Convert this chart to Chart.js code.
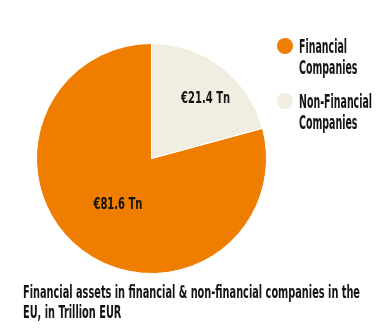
<!DOCTYPE html>
<html>
<head>
<meta charset="utf-8">
<script src="https://cdn.jsdelivr.net/npm/chart.js@4/dist/chart.umd.min.js"></script>
<style>
  html, body { margin: 0; padding: 0; background: #ffffff; }
  #wrap { width: 386px; height: 332px; position: relative; }
</style>
</head>
<body>
<div id="wrap"><canvas id="c" width="386" height="332"></canvas></div>
<script>
// ---- data ----
const categories = ['Financial Companies', 'Non-Financial Companies'];
const legendLines = [['Financial', 'Companies'], ['Non-Financial', 'Companies']];
const values = [81.6, 21.4];
const valueLabels = ['€81.6 Tn', '€21.4 Tn'];
const captionLines = ['Financial assets in financial & non-financial companies in the', 'EU, in Trillion EUR'];
const colors = ['#EF7D00', '#F2EDE1'];

// ---- rendering ----
const FONT = '"Liberation Sans Narrow", "DejaVu Sans Condensed", sans-serif';
const INK = '#141414';

// fit a given string to a target width (returns horizontal scale)
function fitScale(ctx, text, size, targetW) {
  ctx.save();
  ctx.font = `bold ${size}px ${FONT}`;
  const w = ctx.measureText(text).width;
  ctx.restore();
  return targetW / w;
}

function drawText(ctx, text, x, y, size, sx, align, baseline) {
  ctx.save();
  ctx.font = `bold ${size}px ${FONT}`;
  ctx.fillStyle = INK;
  ctx.textAlign = align || 'left';
  ctx.textBaseline = baseline || 'alphabetic';
  ctx.translate(x, y);
  ctx.scale(sx, 1);
  ctx.fillText(text, 0, 0);
  ctx.restore();
}

const total = values.reduce((a, b) => a + b, 0);
const labelAngleFrac = [0.494, 0.564];
const labelRadiusFrac = [0.50, 0.70];

const overlayPlugin = {
  id: 'overlay',
  afterDraw(chart) {
    const ctx = chart.ctx;
    const sxCap = fitScale(ctx, captionLines[0], 18, 337);
    const sxLeg = fitScale(ctx, legendLines[0][0], 19, 48);
    const sxLab = fitScale(ctx, valueLabels[1], 16, 49);
    const meta = chart.getDatasetMeta(0);
    meta.data.forEach((arc, i) => {
      const p = arc.getProps(['x', 'y', 'startAngle', 'endAngle', 'outerRadius'], true);
      const a = p.startAngle + labelAngleFrac[i] * (p.endAngle - p.startAngle);
      const r = labelRadiusFrac[i] * p.outerRadius;
      drawText(ctx, valueLabels[i], p.x + r * Math.cos(a), p.y + r * Math.sin(a), 16, sxLab, 'center', 'middle');
    });
    // legend
    const legendTop = [46, 101];
    legendLines.forEach((lines, i) => {
      ctx.save();
      ctx.fillStyle = colors[i];
      ctx.beginPath();
      ctx.arc(285, legendTop[i], 8, 0, Math.PI * 2);
      ctx.fill();
      ctx.restore();
      lines.forEach((ln, j) => {
        drawText(ctx, ln, 299, legendTop[i] + 7 + j * 21, 19, sxLeg, 'left');
      });
    });
    // caption
    captionLines.forEach((ln, j) => {
      drawText(ctx, ln, 23, 298 + j * 20, 18, sxCap, 'left');
    });
  }
};

new Chart(document.getElementById('c'), {
  type: 'pie',
  data: {
    labels: categories,
    datasets: [{
      data: values,
      backgroundColor: colors,
      borderColor: '#ffffff',
      borderWidth: 1
    }]
  },
  options: {
    responsive: false,
    animation: false,
    rotation: values[1] / total * 360,
    layout: { padding: { left: 36, top: 43, right: 119, bottom: 58 } },
    plugins: {
      legend: { display: false },
      tooltip: { enabled: false },
      title: { display: false }
    }
  },
  plugins: [overlayPlugin]
});
</script>
</body>
</html>
